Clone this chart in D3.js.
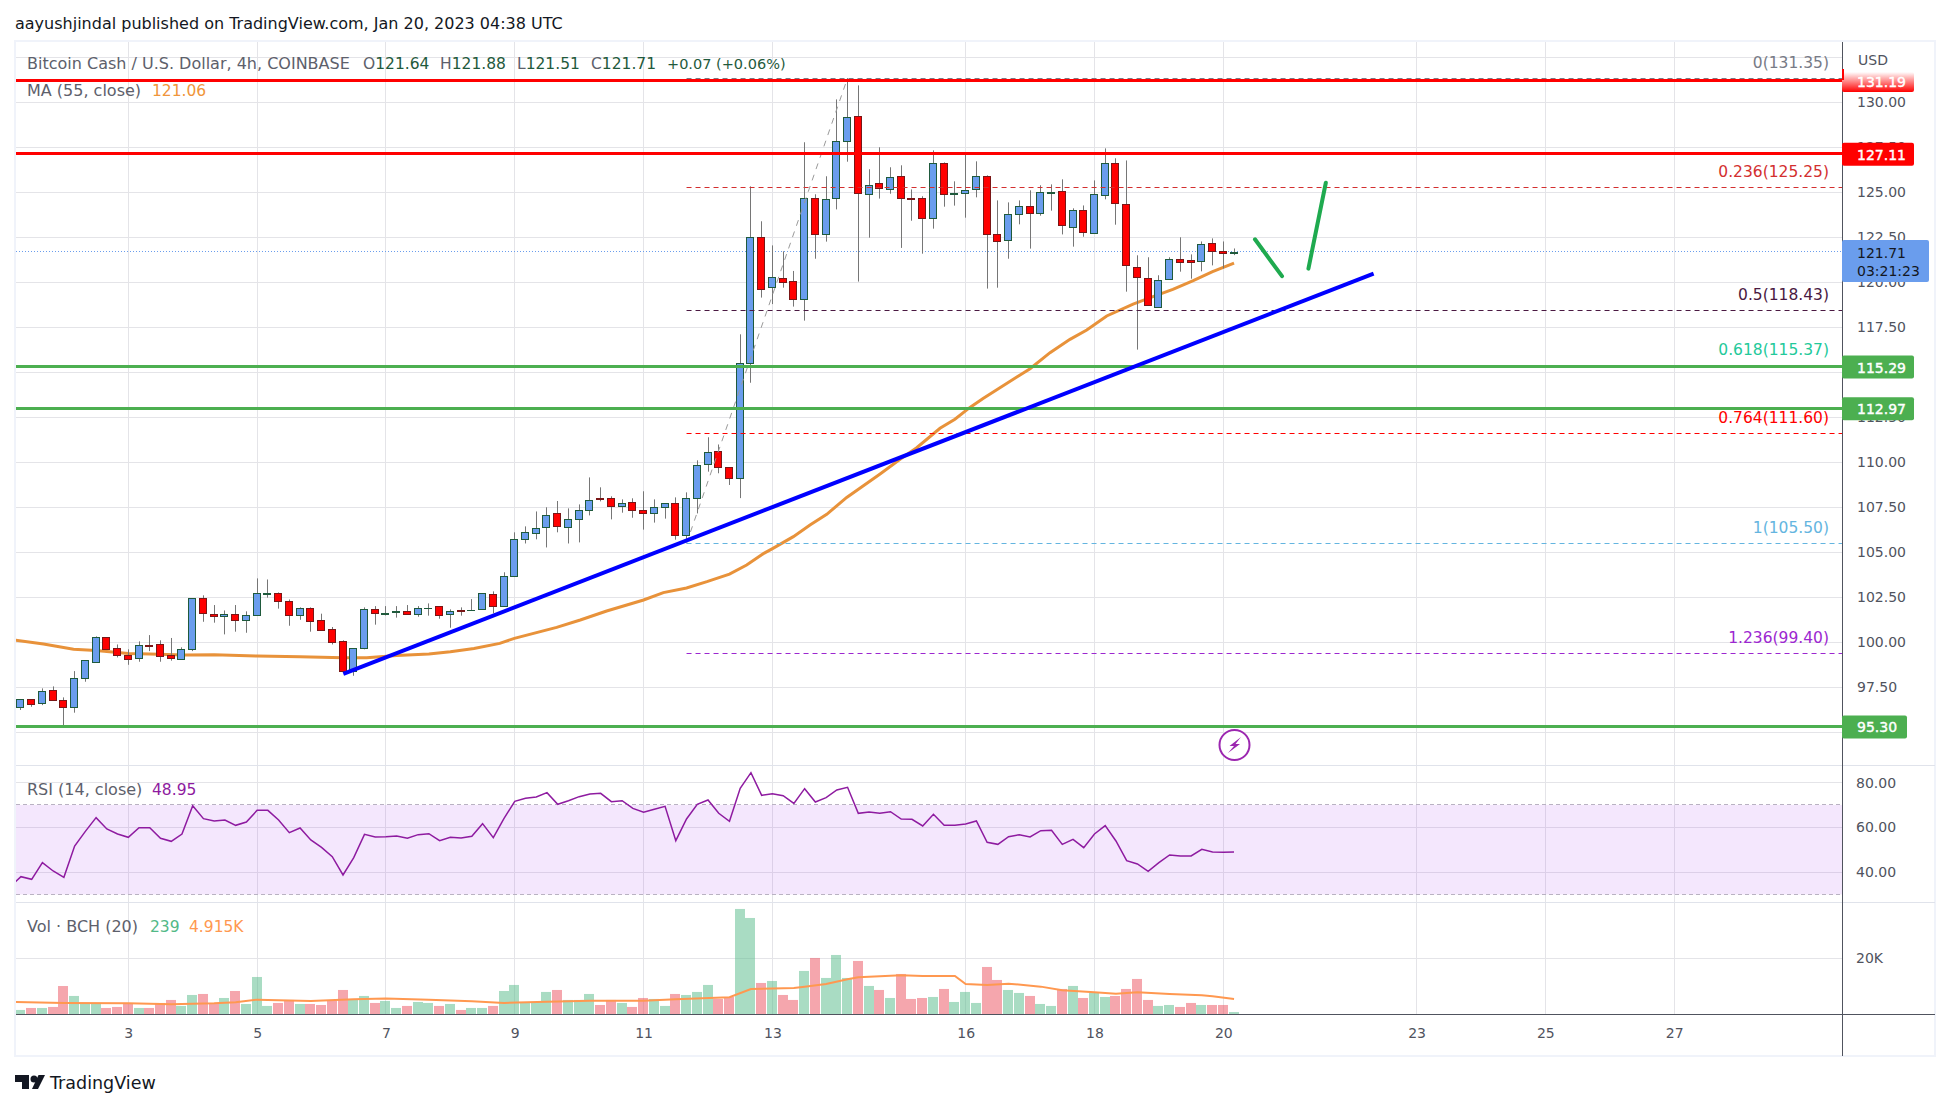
<!DOCTYPE html>
<html>
<head>
<meta charset="utf-8">
<title>BCH/USD</title>
<script src="https://cdn.jsdelivr.net/npm/d3@7"></script>
<style>
    html, body { margin: 0; padding: 0; background: #fff; }
    svg { display: block; }
    text { font-family: "DejaVu Sans", sans-serif; font-size: 14px; }
    .axis text { fill: #50535e; font-size: 14px; font-family: "DejaVu Sans", sans-serif; }
    .axis .domain, .axis line { display: none; }
</style>
</head>
<body>
<div id="chart"></div>
<script>
// 4h candles, one entry per bar
const opens = [96.38,96.83,96.61,97.33,96.77,96.38,97.99,98.92,100.27,99.66,99.27,99.11,99.83,99.88,99.27,99.05,99.61,102.44,101.55,101.44,101.55,101.22,101.49,102.70,102.72,102.27,101.49,101.88,101.22,100.72,100.05,98.38,99.66,101.83,101.58,101.70,101.72,101.55,101.89,101.99,101.55,101.77,101.78,101.83,102.66,101.99,103.66,105.72,106.05,106.39,107.16,106.39,106.83,107.33,108.02,108.00,107.55,107.77,107.33,107.16,107.50,107.72,105.94,108.00,109.89,110.61,109.72,109.11,115.54,122.50,119.76,120.22,120.05,119.05,124.66,122.66,124.66,127.83,129.22,124.89,125.50,125.16,125.89,124.67,124.66,123.55,126.61,124.92,124.94,125.16,125.89,122.66,122.33,123.78,124.22,123.83,124.98,125.05,123.05,124.00,122.72,124.83,126.61,124.33,120.83,120.22,118.61,120.16,121.27,121.22,121.16,122.16,121.72,121.64];
const highs = [96.83,96.83,97.44,97.55,96.94,98.40,98.99,100.33,100.27,99.88,99.61,100.05,100.40,100.11,100.24,99.72,102.44,102.61,102.07,101.77,102.07,101.72,103.55,103.49,102.77,102.38,101.94,101.94,101.59,100.85,100.11,99.66,101.94,102.01,102.01,102.01,102.07,102.01,102.16,101.99,101.83,101.94,102.40,102.72,102.83,103.89,106.11,106.44,107.27,107.50,107.85,107.44,107.66,109.16,108.61,108.11,107.94,108.00,108.39,107.94,107.72,108.05,108.33,110.11,111.39,110.99,109.72,117.11,125.33,123.39,122.05,121.72,120.63,127.78,124.89,125.89,130.16,131.35,130.94,126.28,127.50,126.39,126.50,125.16,124.78,127.33,126.66,125.61,127.11,126.72,125.94,124.55,124.44,124.55,125.11,125.39,125.44,125.72,124.11,124.27,125.66,127.44,126.89,126.77,121.50,121.39,120.39,121.39,122.50,121.55,122.27,122.44,122.27,121.88];
const lows = [96.24,96.42,96.51,96.77,95.38,96.09,97.81,98.87,99.61,99.16,98.75,98.92,99.51,98.92,98.98,99.05,99.51,101.14,101.09,100.44,100.59,100.53,101.49,102.48,101.87,100.92,101.25,100.59,100.66,99.88,98.38,98.14,99.61,100.98,101.49,101.37,101.55,101.42,101.48,101.31,100.81,101.48,101.75,101.83,101.61,101.99,103.66,105.49,105.72,105.27,106.11,105.49,105.55,107.05,107.83,106.83,107.20,106.92,106.26,106.65,106.87,105.70,105.72,107.16,109.48,109.39,108.74,108.01,114.42,119.15,118.79,119.70,118.65,117.87,121.31,122.26,124.05,126.70,120.04,122.48,124.65,124.92,121.91,123.42,121.59,122.98,124.20,124.26,123.59,124.72,119.65,119.70,121.31,123.22,121.87,123.70,123.98,122.66,121.98,122.53,122.72,124.61,123.20,119.48,116.26,118.72,118.61,120.16,120.59,120.20,120.61,120.94,120.77,121.51];
const closes = [96.83,96.55,97.27,96.77,96.38,97.99,98.99,100.27,99.61,99.27,99.05,99.83,99.80,99.22,99.11,99.61,102.44,101.61,101.44,101.55,101.22,101.49,102.72,102.72,102.27,101.49,101.88,101.16,100.66,99.99,98.38,99.66,101.83,101.61,101.63,101.72,101.55,101.88,101.92,101.49,101.72,101.72,101.81,102.72,101.99,103.66,105.72,106.11,106.33,107.05,106.44,106.83,107.33,107.89,107.98,107.55,107.72,107.33,107.16,107.50,107.72,105.94,108.00,109.83,110.55,109.72,109.11,115.54,122.50,119.65,120.28,120.00,119.09,124.66,122.70,124.61,127.83,129.16,124.94,125.39,125.22,125.83,124.66,124.61,123.59,126.61,124.89,124.96,125.11,125.89,122.66,122.28,123.78,124.22,123.83,125.00,125.02,123.16,124.00,122.77,124.89,126.61,124.39,120.94,120.27,118.72,120.11,121.27,121.11,121.11,122.11,121.72,121.64,121.71];

// MA(55) read at these bar positions
const maIdx = [-0.5,2.1,4.9,7,10,12,15.2,18,22,26,30,32.2,35,38,40,42.2,44.6,45.96,49.9,52.1,54.56,58,59.84,62,63.9,66,67.6,69.2,70.05,71.95,73.5,75.06,76.92,78.44,80.03,81.89,83.44,85.61,87,88.4,89.62,93.07,94,95.86,97.72,99.28,101.14,103.6,105.45,107.3,109.2,111,113];
const maVals = [100.12,99.9,99.61,99.55,99.38,99.35,99.29,99.31,99.24,99.2,99.14,99.14,99.27,99.35,99.48,99.66,99.94,100.22,100.83,101.24,101.74,102.35,102.76,103.02,103.37,103.79,104.29,104.94,105.22,105.87,106.52,107.11,108.05,108.68,109.35,110.17,110.81,111.89,112.39,113.05,113.55,114.85,115.2,116.09,116.83,117.35,118.13,118.79,119.2,119.61,120.09,120.59,121.06];

// RSI(14), one per bar, plus the bar cut off at the left edge
const rsiLead = 33.5;
const rsiVals = [37.98,36.79,44.23,40.51,37.68,51.67,58.21,64.32,59.26,57.02,55.54,59.85,59.85,55.09,53.75,57.02,69.67,63.87,62.83,63.27,60.89,62.38,67.59,67.59,63.27,57.62,59.70,54.35,51.07,46.90,38.72,46.46,56.87,55.68,55.83,56.13,55.09,56.73,57.17,54.05,55.54,55.24,55.98,61.64,55.39,64.02,71.61,72.95,73.54,75.48,70.27,71.90,73.69,74.88,75.18,71.46,71.90,68.48,66.70,68.04,69.38,54.05,63.72,70.27,72.20,66.25,62.68,77.41,84.40,74.29,75.03,74.14,70.71,77.26,71.31,73.24,76.67,77.86,66.25,66.85,66.25,66.99,63.72,63.57,60.60,65.80,60.89,60.89,61.49,62.83,53.30,52.41,55.83,56.73,55.68,58.51,58.66,52.41,54.64,50.92,57.02,60.74,53.90,45.12,43.63,40.36,44.23,47.65,47.20,47.20,50.18,48.99,48.84,48.95];

// volume in thousands, one per bar
const volumes = [1.55,2.26,2.26,2.62,10.1,6.55,4.05,4.05,2.26,2.62,4.05,2.26,2.26,4.05,5.12,2.98,6.9,7.26,4.05,5.83,8.33,3.69,13.33,2.98,4.05,5.12,3.69,3.69,3.33,4.76,8.69,5.12,6.55,4.05,4.76,2.26,2.98,4.4,4.05,2.98,3.69,1.55,2.26,2.26,2.98,8.33,10.48,4.4,4.4,7.98,8.69,5.12,5.12,7.26,3.33,5.12,4.05,2.62,5.83,5.48,2.98,7.26,6.9,7.98,10.48,5.48,6.19,37.62,34.4,11.19,11.9,6.9,5.12,15.48,20.12,12.98,21.19,12.98,19.05,10.12,8.69,5.83,14.4,5.48,5.83,6.19,9.05,4.4,7.98,4.05,16.9,12.26,8.69,7.62,6.55,3.69,2.98,9.05,10.12,5.83,7.62,6.19,6.55,9.05,12.62,5.12,2.98,3.33,2.62,4.05,3.33,3.33,3.33,0.8];

// volume MA(20)
const volMaIdx = [-0.5,4,10,14,18,20,22,27,31,34,38,42,45,49,53,58,61,66,68,72,73,75,77,78,80,82,84,87,88,90,92,95,97,100,102,104,107,110,111,113];
const volMaVals = [4.4,4.05,3.93,3.57,3.93,4.29,5.24,4.76,5.36,5.6,5.24,4.64,4.05,4.52,4.88,4.88,5.36,6.07,9.05,9.4,9.88,10.83,12.5,13.2,13.57,13.93,13.69,13.69,10.83,10.48,10.95,9.88,8.57,7.86,7.38,7.86,7.26,6.79,6.43,5.48];

// fib retracement levels
const fibRatios = ["0","0.236","0.5","0.618","0.764","1","1.236"];
const fibPrices = [131.35,125.25,118.43,115.37,111.60,105.50,99.40];
const fibColors = ["#787b86","#d32f2f","#4a1942","#22c99a","#ff0000","#64b5e0","#9c27d0"];

// drawn levels and trend lines
const redLevels = [131.19,127.11];
const greenLevels = [115.29,112.97,95.30];
const lastPrice = 121.71;
const trendIdx = [30.03,126];
const trendVals = [98.25,120.48];
const arrowDownIdx = [114.95,117.47];
const arrowDownVals = [122.39,120.34];
const arrowUpIdx = [119.93,121.55];
const arrowUpVals = [120.76,125.53];
const fibStartIdx = 62;
const fibTopIdx = 77;

// axis ticks
const dayTickIdx = [10,22,34,46,58,70,88,100,112,130,142,154];
const dayLabels = ["3","5","7","9","11","13","16","18","20","23","25","27"];
const priceTicks = [130,127.5,125,122.5,120,117.5,112.5,110,107.5,105,102.5,100,97.5];
const priceGrid = [132.5,115,95].concat(priceTicks);
const rsiTicks = [80,60,40];

class BchChart {
    constructor() {
        this.width = 1950;
        this.height = 1109;
        this.left = 16;
        this.axisX = 1842;
        this.right = 1935;
        this.top = 42;
        this.mainBottom = 765.5;
        this.rsiBottom = 902.5;
        this.volBottom = 1014.5;
        this.frameBottom = 1056;

        this.x = d3.scaleLinear().domain([10, 112]).range([128.3, 1223.3]);
        this.y = d3.scaleLinear().domain([130, 100]).range([102.3, 642.3]);
        this.yRsi = d3.scaleLinear().domain([60, 30]).range([827.33, 894.53]);
        this.yVol = d3.scaleLinear().domain([0, 20]).range([1014.3, 958.3]);

        this.svg = d3.select("#chart").append("svg")
            .attr("width", this.width)
            .attr("height", this.height);

        this.svg.append("defs").append("clipPath").attr("id", "pane")
            .append("rect")
            .attr("x", this.left).attr("y", this.top)
            .attr("width", this.axisX - this.left)
            .attr("height", this.volBottom - this.top);

        const grad = this.svg.select("defs").append("linearGradient")
            .attr("id", "fade").attr("x1", 0).attr("x2", 0).attr("y1", 0).attr("y2", 1);
        grad.append("stop").attr("offset", "0%").attr("stop-color", "#fff");
        grad.append("stop").attr("offset", "100%").attr("stop-color", "#ff0000");

        this.drawGrid();
        this.drawRsi();
        this.drawVolume();
        this.drawPrice();
        this.drawDrawings();
        this.drawAxes();
        this.drawTags();
        this.drawLegends();
        this.drawLogo();
    }

    line(x1, y1, x2, y2, color, width) {
        return this.svg.append("line")
            .attr("x1", x1).attr("y1", y1).attr("x2", x2).attr("y2", y2)
            .attr("stroke", color).attr("stroke-width", width || 1);
    }

    crisp(v) {
        return Math.floor(v) + 0.5;
    }

    drawGrid() {
        const gridColor = "#e4e4e8";
        priceGrid.forEach(p => {
            const yy = this.crisp(this.y(p));
            this.line(this.left, yy, this.axisX, yy, gridColor);
        });
        rsiTicks.forEach(v => {
            const yy = this.crisp(this.yRsi(v));
            this.line(this.left, yy, this.axisX, yy, gridColor);
        });
        this.line(this.left, this.crisp(this.yVol(20)), this.axisX, this.crisp(this.yVol(20)), gridColor);
        dayTickIdx.forEach(i => {
            const xx = this.crisp(this.x(i));
            this.line(xx, this.top, xx, this.volBottom, gridColor);
        });
    }

    drawRsi() {
        const y70 = this.yRsi(70), y30 = this.yRsi(30);
        this.svg.append("rect")
            .attr("x", this.left).attr("y", y70)
            .attr("width", this.axisX - this.left).attr("height", y30 - y70)
            .attr("fill", "#9b27f0").attr("fill-opacity", 0.11);
        [70, 30].forEach(v => {
            this.line(this.left, this.crisp(this.yRsi(v)), this.axisX, this.crisp(this.yRsi(v)), "#b9b2c2")
                .attr("stroke-dasharray", "4,3");
        });
        const rsiLine = d3.line().x((d, i) => this.x(i - 1)).y(d => this.yRsi(d));
        this.svg.append("path")
            .attr("clip-path", "url(#pane)")
            .attr("d", rsiLine([rsiLead].concat(rsiVals)))
            .attr("fill", "none")
            .attr("stroke", "#8e1ba0")
            .attr("stroke-width", 1.5);
    }

    drawVolume() {
        const g = this.svg.append("g").attr("clip-path", "url(#pane)");
        g.selectAll("rect").data(volumes).enter().append("rect")
            .attr("x", (d, i) => Math.floor(this.x(i)) - 5)
            .attr("width", 10)
            .attr("y", d => this.yVol(d))
            .attr("height", d => this.yVol(0) - this.yVol(d))
            .attr("fill", (d, i) => closes[i] >= opens[i] ? "#53b987" : "#eb4d5c")
            .attr("fill-opacity", 0.5);
        const volLine = d3.line().x(d => this.x(d[0])).y(d => this.yVol(d[1]));
        g.append("path")
            .attr("d", volLine(d3.zip(volMaIdx, volMaVals)))
            .attr("fill", "none")
            .attr("stroke", "#ff9850")
            .attr("stroke-width", 2);
    }

    drawPrice() {
        const g = this.svg.append("g").attr("clip-path", "url(#pane)");
        const yLast = this.crisp(this.y(lastPrice));
        g.append("line")
            .attr("x1", this.left).attr("x2", this.axisX)
            .attr("y1", yLast).attr("y2", yLast)
            .attr("stroke", "#6a9ded").attr("stroke-dasharray", "1,2");

        const maLine = d3.line().x(d => this.x(d[0])).y(d => this.y(d[1]));
        g.append("path")
            .attr("d", maLine(d3.zip(maIdx, maVals)))
            .attr("fill", "none")
            .attr("stroke", "#e8923a")
            .attr("stroke-width", 3);

        const bars = g.selectAll(".bar").data(d3.range(opens.length)).enter()
            .append("g").attr("class", "bar");

        // wicks first, bodies sit on top of them
        bars.append("line")
            .attr("x1", i => Math.floor(this.x(i)) + 0.5)
            .attr("x2", i => Math.floor(this.x(i)) + 0.5)
            .attr("y1", i => this.y(highs[i]))
            .attr("y2", i => this.y(lows[i]))
            .attr("stroke", "#767676");

        bars.append("rect")
            .attr("x", i => Math.floor(this.x(i)) - 3.5)
            .attr("width", 7)
            .attr("y", i => Math.round(this.y(Math.max(opens[i], closes[i]))) + 0.5)
            .attr("height", i => Math.max(0.01,
                Math.round(this.y(Math.min(opens[i], closes[i]))) - Math.round(this.y(Math.max(opens[i], closes[i])))))
            .attr("fill", i => closes[i] >= opens[i] ? "#6a9ded" : "#ff0000")
            .attr("stroke", i => closes[i] >= opens[i] ? "#1f5a3c" : "#7a1616");
    }

    // thick level lines sit on whole pixels, a little above the raw scale value
    levelY(p) {
        return Math.floor(this.y(p) - 0.5) + 0.5;
    }

    drawDrawings() {
        const fibX = this.x(fibStartIdx);
        fibPrices.forEach((p, i) => {
            const yy = this.crisp(this.y(p));
            this.line(fibX, yy, this.axisX, yy, fibColors[i]).attr("stroke-dasharray", "5,4");
            this.svg.append("text")
                .attr("x", 1829).attr("y", this.y(p) - 10.5)
                .attr("text-anchor", "end")
                .attr("fill", fibColors[i])
                .style("font-size", "15.5px")
                .text(`${fibRatios[i]}(${p.toFixed(2)})`);
        });
        this.line(fibX, this.y(105.50), this.x(fibTopIdx), this.y(131.35), "#9a9a9a")
            .attr("stroke-dasharray", "6,6");

        redLevels.forEach(p => this.line(this.left, this.levelY(p), this.axisX, this.levelY(p), "#ff0000", 3));
        greenLevels.forEach(p => this.line(this.left, this.levelY(p), this.axisX, this.levelY(p), "#4caf50", 3));

        this.line(this.x(trendIdx[0]), this.y(trendVals[0]), this.x(trendIdx[1]), this.y(trendVals[1]), "#0000ff", 4);
        this.line(this.x(arrowDownIdx[0]), this.y(arrowDownVals[0]), this.x(arrowDownIdx[1]), this.y(arrowDownVals[1]), "#1faa4f", 4)
            .attr("stroke-linecap", "round");
        this.line(this.x(arrowUpIdx[0]), this.y(arrowUpVals[0]), this.x(arrowUpIdx[1]), this.y(arrowUpVals[1]), "#1faa4f", 4)
            .attr("stroke-linecap", "round");

        // lightning marker under the last bar
        const icon = this.svg.append("g").attr("transform", "translate(1234.5,745)");
        icon.append("circle").attr("r", 15).attr("fill", "#fff").attr("stroke", "#9c27b0").attr("stroke-width", 2);
        icon.append("path").attr("d", "M6.5,-8 L-5,1 L-0.5,1 L-6.5,8 L5.5,-1 L1,-1 Z").attr("fill", "#9c27b0");
    }

    drawAxes() {
        const priceAxis = d3.axisRight(this.y)
            .tickValues(priceTicks).tickSize(0).tickPadding(15)
            .tickFormat(d3.format(".2f"));
        this.svg.append("g").attr("class", "axis")
            .attr("transform", `translate(${this.axisX},0)`)
            .call(priceAxis);

        const rsiAxis = d3.axisRight(this.yRsi)
            .tickValues(rsiTicks).tickSize(0).tickPadding(14)
            .tickFormat(d3.format(".2f"));
        this.svg.append("g").attr("class", "axis")
            .attr("transform", `translate(${this.axisX},0)`)
            .call(rsiAxis);

        const volAxis = d3.axisRight(this.yVol)
            .tickValues([20]).tickSize(0).tickPadding(14)
            .tickFormat(d => d + "K");
        this.svg.append("g").attr("class", "axis")
            .attr("transform", `translate(${this.axisX},0)`)
            .call(volAxis);

        const timeAxis = d3.axisBottom(this.x)
            .tickValues(dayTickIdx).tickSize(0).tickPadding(14)
            .tickFormat((d, i) => dayLabels[i]);
        this.svg.append("g").attr("class", "axis")
            .attr("transform", `translate(0,${this.volBottom})`)
            .call(timeAxis);

        this.svg.append("text").attr("x", 1858).attr("y", 65).attr("fill", "#50535e").text("USD");

        // frame, separators, axis lines
        this.svg.append("rect")
            .attr("x", 15).attr("y", 41)
            .attr("width", 1920).attr("height", 1015)
            .attr("fill", "none").attr("stroke", "#f0f3fa").attr("stroke-width", 2);
        this.line(this.left, this.mainBottom, this.right, this.mainBottom, "#e0e3eb");
        this.line(this.left, this.rsiBottom, this.right, this.rsiBottom, "#e0e3eb");
        this.line(this.left, this.volBottom, this.right, this.volBottom, "#50535e");
        this.line(this.axisX + 0.5, this.top, this.axisX + 0.5, this.frameBottom, "#50535e");
    }

    tagText(x, y, text, color) {
        return this.svg.append("text")
            .attr("x", x).attr("y", y)
            .attr("fill", color)
            .attr("stroke", color).attr("stroke-width", 0.4)
            .text(text);
    }

    tag(price, x2, color) {
        const cy = this.y(price);
        this.svg.append("rect")
            .attr("x", this.axisX).attr("y", cy - 11.5)
            .attr("width", x2 - this.axisX).attr("height", 23).attr("rx", 2)
            .attr("fill", color);
        this.tagText(1857, cy + 5.5, price.toFixed(2), "#fff");
    }

    drawTags() {
        // the top tag fades out upward
        this.svg.append("rect")
            .attr("x", this.axisX).attr("y", 72)
            .attr("width", 72).attr("height", 20).attr("rx", 2)
            .attr("fill", "url(#fade)");
        this.line(this.axisX + 1, 69, this.axisX + 1, 80, "#ff0000", 2);
        this.tagText(1857, 86.5, redLevels[0].toFixed(2), "#fff");

        this.tag(redLevels[1], 1914, "#ff0000");
        this.tag(greenLevels[0], 1914, "#4caf50");
        this.tag(greenLevels[1], 1914, "#4caf50");
        this.tag(greenLevels[2], 1907, "#4caf50");

        this.svg.append("rect")
            .attr("x", this.axisX).attr("y", 240)
            .attr("width", 87).attr("height", 42).attr("rx", 2)
            .attr("fill", "#6a9ded");
        this.svg.append("text").attr("x", 1857).attr("y", 257.5)
            .attr("fill", "#131722").text(lastPrice.toFixed(2));
        this.svg.append("text").attr("x", 1857).attr("y", 276)
            .attr("fill", "#131722").text("03:21:23");
    }

    label(x, y, text, color, size) {
        return this.svg.append("text")
            .attr("x", x).attr("y", y)
            .attr("fill", color)
            .style("font-size", (size || 16) + "px")
            .text(text);
    }

    drawLegends() {
        const grey = "#5d606b", green = "#1f5a3c";
        this.label(15, 29, "aayushjindal published on TradingView.com, Jan 20, 2023 04:38 UTC", "#131722");
        this.label(27, 69, "Bitcoin Cash / U.S. Dollar, 4h, COINBASE", grey);

        const ohlc = [["O", "121.64", 363], ["H", "121.88", 440], ["L", "121.51", 517], ["C", "121.71", 591]];
        ohlc.forEach(d => {
            const t = this.svg.append("text").attr("x", d[2]).attr("y", 69).style("font-size", "15.5px");
            t.append("tspan").attr("fill", grey).text(d[0]);
            t.append("tspan").attr("fill", green).text(d[1]);
        });
        this.label(667, 69, "+0.07 (+0.06%)", green, 14.5);

        this.label(27, 96, "MA (55, close)", grey);
        this.label(152, 96, "121.06", "#f0953a", 15.5);
        this.label(27, 795, "RSI (14, close)", grey);
        this.label(152, 795, "48.95", "#8e1ba0", 15.5);
        this.label(27, 932, "Vol · BCH (20)", grey);
        this.label(150, 932, "239", "#53b987", 15.5);
        this.label(189, 932, "4.915K", "#ff9850", 15.5);
    }

    drawLogo() {
        const g = this.svg.append("g").attr("fill", "#131722");
        g.append("path").attr("d", "M15,1075 H29 V1089 H22 V1082 H15 Z");
        g.append("circle").attr("cx", 34).attr("cy", 1079).attr("r", 3.5);
        g.append("path").attr("d", "M37,1089 L38,1089 L45,1075 L38.5,1075 L32,1089 Z");
        this.label(50, 1089, "TradingView", "#131722", 17.5);
    }
}

new BchChart();
</script>
</body>
</html>
